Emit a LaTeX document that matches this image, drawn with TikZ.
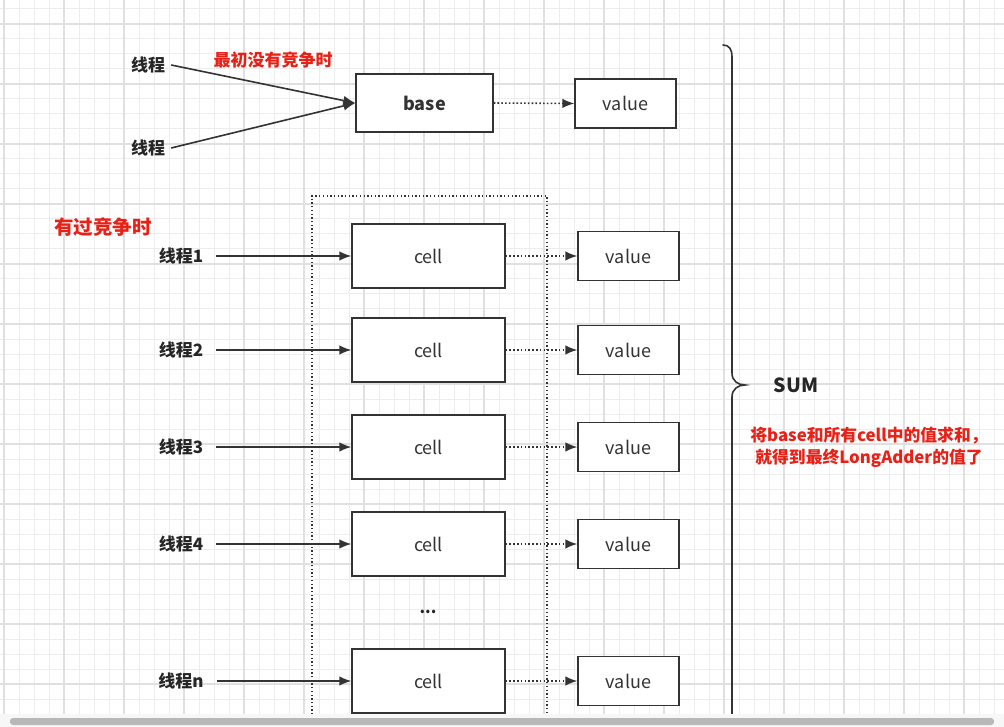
\documentclass[tikz,border=0pt]{standalone}
\usepackage{fontspec}
\setmainfont{Noto Sans CJK SC}
\usetikzlibrary{arrows.meta}
\tikzset{>={Latex[length=12pt,width=9.5pt]}}
\colorlet{myline}{black!80}
\definecolor{myred}{RGB}{232,32,22}
\tikzset{
  thread/.style={inner sep=6pt, text=black!85, font=\bfseries\fontsize{17}{20}\selectfont},
  cellbox/.style={draw=myline, line width=1.3pt, fill=white, minimum width=153pt, minimum height=64pt,
    text=black!80, font=\fontsize{18}{20}\selectfont},
  valuebox/.style={draw=myline, line width=1.3pt, fill=white, minimum width=101pt, minimum height=49pt,
    text=black!80, font=\fontsize{18}{20}\selectfont},
  link/.style={->, draw=myline, line width=1.6pt},
  dotlink/.style={->, draw=myline, line width=1.6pt, dash pattern=on 1.6pt off 2.2pt},
  note/.style={text=myred, font=\bfseries\fontsize{17}{22}\selectfont}
}
\begin{document}
\begin{tikzpicture}[x=1pt, y=-1pt]
  \useasboundingbox (0,0) rectangle (1004,727);
  \fill[white] (0,0) rectangle (1004,727);

  % Grid
  \foreach \x in {4,19,...,1004} \draw[black!7, line width=1pt] (\x,0) -- (\x,727);
  \foreach \y in {9,24,...,727} \draw[black!7, line width=1pt] (0,\y) -- (1004,\y);
  \foreach \x in {4,64,...,1004} \draw[black!12, line width=1.2pt] (\x,0) -- (\x,727);
  \foreach \y in {24,84,...,727} \draw[black!12, line width=1.2pt] (0,\y) -- (1004,\y);

  % Without contention
  \node[thread] (t1) at (148,65) {线程};
  \node[thread] (t2) at (148,148) {线程};
  \node[cellbox, minimum width=137pt, minimum height=58pt, font=\bfseries\fontsize{18}{20}\selectfont] (base) at (424.5,103) {base};
  \node[valuebox] (bv) at (625.5,103.5) {value};
  \node[note] (n1) at (273,60) {最初没有竞争时};
  \draw[link] (t1.east) -- (base.west);
  \draw[link] (t2.east) -- (base.west);
  \draw[dotlink] (base.east) -- (bv.west);

  % With contention
  \draw[myline, line width=1.3pt, dash pattern=on 1.3pt off 2.4pt] (312,718) -- (312,196) -- (547,196) -- (547,718);
  \node[note, font=\bfseries\fontsize{19.5}{22}\selectfont] (n2) at (103,227) {有过竞争时};
  \foreach \i/\y in {1/256, 2/350, 3/447, 4/544, n/681} {
    \node[thread] (th\i) at (181,\y) {线程\i};
    \node[cellbox] (cell\i) at (428.5,\y) {cell};
    \node[valuebox] (val\i) at (628.5,\y) {value};
    \draw[link, shorten <=7pt] (th\i.east) -- (cell\i.west);
    \draw[dotlink] (cell\i.east) -- (val\i.west);
  }
  \node[text=black!85, font=\bfseries\fontsize{16}{18}\selectfont] (dots) at (428,612) {...};

  % Brace
  \draw[myline, line width=1.6pt, line cap=round]
    (723,45) .. controls (729,45) and (732,49) .. (732,57)
    -- (732,373) .. controls (732,381) and (738,385) .. (745,385)
    .. controls (738,385) and (732,389) .. (732,397) -- (732,718);
  \node[text=black!85, font=\bfseries\fontsize{19.5}{22}\selectfont] (sum) at (796,385) {SUM};
  \node[note, align=center, font=\bfseries\fontsize{16.8}{22}\selectfont] (n3) at (869,447)
    {将base和所有cell中的值求和，\\就得到最终LongAdder的值了};

  % Scroll bar
  \fill[black!3] (0,714) rectangle (1004,727);
  \fill[black!28, rounded corners=3pt] (10,718) rectangle (994,725);
\end{tikzpicture}
\end{document}
